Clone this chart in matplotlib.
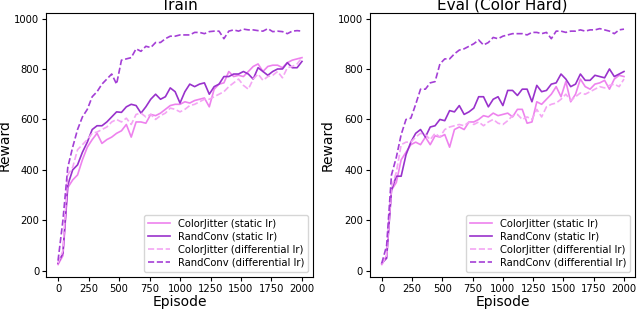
import numpy as np
import matplotlib
matplotlib.use("Agg")
import matplotlib.pyplot as plt

episodes = np.arange(0, 2001, 40)

# Train panel
train_cj_static = [25, 60, 330, 360, 380, 440, 490, 520, 545, 505, 520, 530, 545, 555, 580, 530, 590, 590, 585, 620,
                   615, 625, 640, 655, 660, 660, 670, 665, 675, 680, 685, 650, 720, 740, 745, 790, 770, 775, 770, 790,
                   810, 820, 790, 810, 815, 815, 805, 825, 835, 840, 845]
train_rc_static = [30, 70, 340, 400, 420, 470, 510, 560, 575, 575, 590, 610, 630, 628, 650, 660, 655, 625, 650, 680,
                   700, 680, 690, 725, 710, 665, 710, 740, 730, 740, 745, 700, 730, 740, 770, 770, 780, 780, 790, 780,
                   760, 805, 790, 775, 790, 800, 800, 825, 805, 805, 830]
train_cj_diff = [30, 80, 380, 410, 480, 500, 520, 545, 550, 560, 570, 590, 600, 590, 605, 580, 620, 625, 610, 620,
                 600, 615, 625, 645, 640, 630, 640, 655, 660, 670, 680, 680, 690, 700, 710, 730, 745, 760, 735, 720,
                 760, 780, 755, 770, 775, 790, 765, 805, 810, 820, 845]
train_rc_diff = [40, 200, 410, 490, 560, 610, 640, 690, 710, 740, 760, 780, 740, 835, 840, 845, 880, 870, 890, 885,
                 905, 905, 920, 930, 930, 935, 935, 935, 945, 945, 940, 948, 950, 950, 920, 950, 955, 950, 958, 955,
                 955, 952, 950, 960, 948, 950, 948, 940, 950, 952, 950]

# Eval (Color Hard) panel
eval_cj_static = [25, 60, 320, 350, 440, 470, 500, 510, 500, 530, 500, 535, 530, 540, 490, 560, 570, 560, 590, 590,
                  600, 615, 610, 625, 615, 620, 625, 610, 640, 640, 585, 590, 670, 660, 680, 700, 730, 690, 750, 670,
                  700, 760, 730, 720, 740, 745, 755, 720, 760, 775, 770]
eval_rc_static = [30, 50, 320, 375, 375, 460, 510, 545, 560, 530, 570, 575, 600, 595, 635, 630, 655, 620, 630, 645,
                  690, 690, 650, 680, 690, 655, 715, 715, 695, 720, 720, 670, 735, 710, 715, 740, 745, 780, 760, 730,
                  740, 780, 755, 755, 775, 770, 765, 800, 770, 780, 790]
eval_cj_diff = [25, 60, 330, 390, 500, 510, 510, 530, 545, 540, 520, 545, 530, 560, 570, 575, 580, 575, 590, 580,
                590, 575, 590, 600, 585, 580, 595, 615, 620, 600, 610, 600, 640, 610, 650, 660, 665, 680, 700, 675,
                690, 705, 700, 710, 720, 730, 725, 735, 740, 730, 760]
eval_rc_diff = [30, 100, 380, 450, 540, 600, 605, 660, 720, 720, 745, 750, 820, 840, 840, 860, 875, 880, 890, 900,
                915, 895, 905, 925, 920, 930, 935, 940, 940, 940, 935, 945, 945, 940, 945, 920, 950, 950, 945, 950,
                950, 955, 950, 955, 955, 960, 955, 950, 940, 955, 958]

labels = ["ColorJitter (static lr)", "RandConv (static lr)",
          "ColorJitter (differential lr)", "RandConv (differential lr)"]
colors = ["violet", "darkorchid", "#f4a6f4", "#a43fd6"]
styles = ["-", "-", "--", "--"]

panels = [("Train", [train_cj_static, train_rc_static, train_cj_diff, train_rc_diff]),
          ("Eval (Color Hard)", [eval_cj_static, eval_rc_static, eval_cj_diff, eval_rc_diff])]

fig = plt.figure(figsize=(6.4, 3.09), dpi=100)
boxes = [[0.072, 0.104, 0.417, 0.854], [0.578, 0.104, 0.414, 0.854]]
for box, (title, series) in zip(boxes, panels):
    ax = fig.add_axes(box)
    for s, lab, c, ls in zip(series, labels, colors, styles):
        ax.plot(episodes, s, color=c, ls=ls, lw=1.2, label=lab)
    ax.set_title(title, fontsize=11, pad=2)
    ax.set_xlabel("Episode", fontsize=10, labelpad=1)
    ax.set_ylabel("Reward", fontsize=10, labelpad=2)
    ax.set_xticks(np.arange(0, 2001, 250))
    ax.set_yticks([0, 200, 400, 600, 800, 1000])
    ax.tick_params(labelsize=7.2, length=3, pad=2)
    ax.legend(loc="lower right", fontsize=7.2, handlelength=2.2, borderpad=0.4, labelspacing=0.3)
    ax.set_xlim(-98, 2090)
    ax.set_ylim(-24, 1022)

fig.savefig("out.png", dpi=100)
